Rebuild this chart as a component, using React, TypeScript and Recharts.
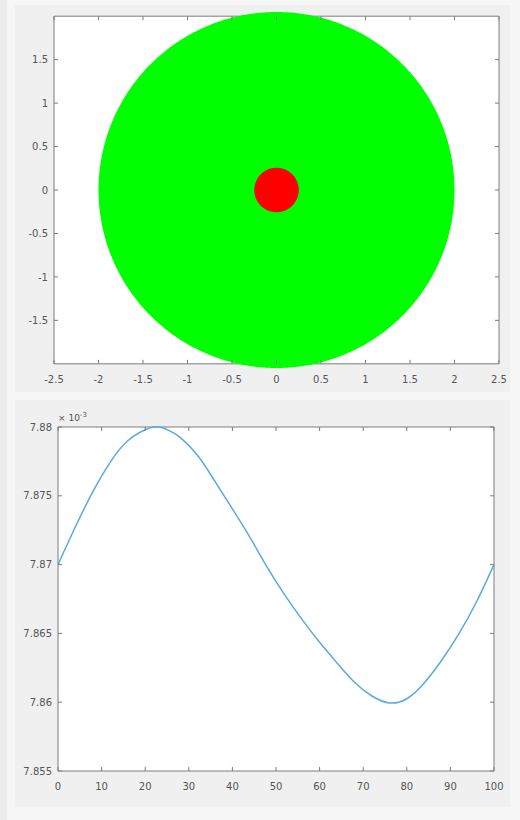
import React from 'react';
import {
  ComposedChart,
  LineChart,
  Line,
  Area,
  XAxis,
  YAxis,
  ReferenceArea,
} from 'recharts';

// ---- Upper plot: two filled disks centred at the origin ----
const DISK_NAMES = ['outer', 'inner'];
const DISK_RADII = [2, 0.25];

const DISK_X_TICKS = [-2.5, -2, -1.5, -1, -0.5, 0, 0.5, 1, 1.5, 2, 2.5];
const DISK_Y_TICKS = [-1.5, -1, -0.5, 0, 0.5, 1, 1.5];
const DISK_X_LIMITS = [-2.5, 2.5];
const DISK_Y_LIMITS = [-2, 2];
const DISK_Y_VIEW = [-2.048, 2.048];

// ---- Lower plot: a single oscillating trace ----
const WAVE_X = [0, 4, 8, 12, 16, 20, 22, 24, 26, 28, 32, 36, 40, 44, 48, 52, 56, 60, 64, 68, 72, 76, 80, 84, 88, 92, 96, 100];
const WAVE_Y = [
  0.00787000, 0.00787275, 0.00787530, 0.00787745, 0.00787900, 0.00787980, 0.00788000,
  0.00787995, 0.00787965, 0.00787925, 0.00787795, 0.00787605, 0.00787405, 0.00787200,
  0.00786980, 0.00786780, 0.00786600, 0.00786435, 0.00786285, 0.00786145, 0.00786045,
  0.00785995, 0.00786025, 0.00786140, 0.00786305, 0.00786500, 0.00786730, 0.00787000,
];
const WAVE_X_TICKS = [0, 10, 20, 30, 40, 50, 60, 70, 80, 90, 100];
const WAVE_Y_TICKS = [0.007855, 0.00786, 0.007865, 0.00787, 0.007875, 0.00788];
const WAVE_X_LIMITS = [0, 100];
const WAVE_Y_LIMITS = [0.007855, 0.00788];

const SAMPLES = 180;

function halfChord(r: number, x: number): number {
  const d = r * r - x * x;
  return d <= 0 ? 0 : Math.sqrt(d);
}

// Outline of every disk as [lower, upper] ranges over a shared x grid
function buildDiskRows() {
  const xs: number[] = [];
  DISK_RADII.forEach((r) => {
    for (let i = 0; i <= SAMPLES; i++) xs.push(r * Math.cos((Math.PI * i) / SAMPLES));
  });
  xs.sort((a, b) => a - b);
  return xs.map((x) => {
    const row: Record<string, any> = { x };
    DISK_NAMES.forEach((name, k) => {
      const r = DISK_RADII[k];
      row[name] = Math.abs(x) <= r + 1e-9 ? [-halfChord(r, x), halfChord(r, x)] : null;
    });
    return row;
  });
}

const diskRows = buildDiskRows();
const waveRows = WAVE_X.map((x, i) => ({ x, y: WAVE_Y[i] }));

const FONT = '"DejaVu Sans", "Liberation Sans", Arial, sans-serif';
const AXIS_COLOR = '#7c7c7c';
const TEXT_COLOR = '#555555';
const TICK_LEN = 4;

// layout of the upper plot
const TOP_PLOT_W = 445;
const TOP_PLOT_H = 356;
const TOP_SCALE = TOP_PLOT_H / (DISK_Y_VIEW[1] - DISK_Y_VIEW[0]);
const TOP_FRAME_GAP = (DISK_Y_LIMITS[0] - DISK_Y_VIEW[0]) * TOP_SCALE;
const TOP_FRAME_H = (DISK_Y_LIMITS[1] - DISK_Y_LIMITS[0]) * TOP_SCALE;

// layout of the lower plot
const LOW_PLOT_W = 436;
const LOW_PLOT_H = 344;

const fmtPlain = (v: number) => String(v);
const fmtMilli = (v: number) => String(parseFloat((v * 1000).toFixed(4)));

const TopXTick = (props: any) => {
  const { x, y, payload } = props;
  const yb = y - TOP_FRAME_GAP;
  const yt = yb - TOP_FRAME_H;
  return (
    <g>
      <line x1={x} x2={x} y1={yb} y2={yb - TICK_LEN} stroke={AXIS_COLOR} />
      <line x1={x} x2={x} y1={yt} y2={yt + TICK_LEN} stroke={AXIS_COLOR} />
      <text x={x} y={yb + 19.5} textAnchor="middle" fontSize={10} fontFamily={FONT} fill={TEXT_COLOR}>
        {fmtPlain(payload.value)}
      </text>
    </g>
  );
};

const TopYTick = (props: any) => {
  const { x, y, payload } = props;
  return (
    <g>
      <line x1={x} x2={x + TICK_LEN} y1={y} y2={y} stroke={AXIS_COLOR} />
      <line x1={x + TOP_PLOT_W} x2={x + TOP_PLOT_W - TICK_LEN} y1={y} y2={y} stroke={AXIS_COLOR} />
      <text x={x - 6} y={y + 3.6} textAnchor="end" fontSize={10} fontFamily={FONT} fill={TEXT_COLOR}>
        {fmtPlain(payload.value)}
      </text>
    </g>
  );
};

const LowXTick = (props: any) => {
  const { x, y, payload } = props;
  return (
    <g>
      <line x1={x} x2={x} y1={y} y2={y - TICK_LEN} stroke={AXIS_COLOR} />
      <line x1={x} x2={x} y1={y - LOW_PLOT_H} y2={y - LOW_PLOT_H + TICK_LEN} stroke={AXIS_COLOR} />
      <text x={x} y={y + 18.5} textAnchor="middle" fontSize={10} fontFamily={FONT} fill={TEXT_COLOR}>
        {fmtPlain(payload.value)}
      </text>
    </g>
  );
};

const LowYTick = (props: any) => {
  const { x, y, payload } = props;
  return (
    <g>
      <line x1={x} x2={x + TICK_LEN} y1={y} y2={y} stroke={AXIS_COLOR} />
      <line x1={x + LOW_PLOT_W} x2={x + LOW_PLOT_W - TICK_LEN} y1={y} y2={y} stroke={AXIS_COLOR} />
      <text x={x - 6} y={y + 3.6} textAnchor="end" fontSize={10} fontFamily={FONT} fill={TEXT_COLOR}>
        {fmtMilli(payload.value)}
      </text>
    </g>
  );
};

const ExponentLabel = (props: any) => {
  const vb = props.viewBox || {};
  const x = (vb.x || 0) + (vb.width || 0);
  const y = (vb.y || 0) - 6;
  return (
    <text x={x} y={y} fontSize={9} fontFamily={FONT} fill={TEXT_COLOR}>
      {'\u00d7 10'}
      <tspan dy={-4} fontSize={7}>-3</tspan>
    </text>
  );
};

export default function App() {
  return (
    <div
      style={{
        position: 'fixed',
        left: 0,
        top: 0,
        width: 520,
        height: 820,
        background: '#f6f6f6',
        overflow: 'hidden',
      }}
    >
      <div style={{ position: 'absolute', left: 0, top: 0, width: 7, height: 820, background: '#ececec' }} />
      <div style={{ position: 'absolute', left: 15, top: 5, width: 495, height: 387, background: '#f0f0f0' }} />
      <div style={{ position: 'absolute', left: 15, top: 400, width: 495, height: 407, background: '#f0f0f0' }} />

      <div style={{ position: 'absolute', left: 0, top: 0 }}>
        <ComposedChart
          width={520}
          height={400}
          data={diskRows}
          margin={{ top: 12, right: 21, bottom: 2, left: 14 }}
        >
          <XAxis
            dataKey="x"
            type="number"
            domain={DISK_X_LIMITS}
            ticks={DISK_X_TICKS}
            interval={0}
            height={30}
            axisLine={false}
            tickLine={false}
            tickSize={0}
            tickMargin={0}
            tick={TopXTick}
            allowDataOverflow
          />
          <YAxis
            yAxisId="frame"
            type="number"
            domain={DISK_Y_VIEW}
            ticks={DISK_Y_TICKS}
            interval={0}
            width={40}
            axisLine={false}
            tickLine={false}
            tickSize={0}
            tickMargin={0}
            tick={TopYTick}
            allowDataOverflow
          />
          <YAxis
            yAxisId="disk"
            orientation="right"
            type="number"
            domain={['dataMin', 'dataMax']}
            width={0}
            hide
          />
          <ReferenceArea
            yAxisId="frame"
            x1={DISK_X_LIMITS[0]}
            x2={DISK_X_LIMITS[1]}
            y1={DISK_Y_LIMITS[0]}
            y2={DISK_Y_LIMITS[1]}
            fill="#ffffff"
            fillOpacity={1}
            stroke={AXIS_COLOR}
            strokeWidth={1}
            ifOverflow="visible"
          />
          <Area
            yAxisId="disk"
            dataKey="outer"
            type="linear"
            stroke="none"
            fill="#00ff00"
            fillOpacity={1}
            dot={false}
            activeDot={false}
            isAnimationActive={false}
          />
          <Area
            yAxisId="disk"
            dataKey="inner"
            type="linear"
            stroke="none"
            fill="#ff0000"
            fillOpacity={1}
            dot={false}
            activeDot={false}
            isAnimationActive={false}
          />
        </ComposedChart>
      </div>

      <div style={{ position: 'absolute', left: 0, top: 400 }}>
        <LineChart
          width={520}
          height={420}
          data={waveRows}
          margin={{ top: 27, right: 26, bottom: 19, left: 13 }}
        >
          <XAxis
            dataKey="x"
            type="number"
            domain={WAVE_X_LIMITS}
            ticks={WAVE_X_TICKS}
            interval={0}
            height={30}
            axisLine={false}
            tickLine={false}
            tickSize={0}
            tickMargin={0}
            tick={LowXTick}
          />
          <YAxis
            type="number"
            domain={WAVE_Y_LIMITS}
            ticks={WAVE_Y_TICKS}
            interval={0}
            width={45}
            axisLine={false}
            tickLine={false}
            tickSize={0}
            tickMargin={0}
            tick={LowYTick}
            label={{ content: ExponentLabel }}
          />
          <ReferenceArea
            x1={WAVE_X_LIMITS[0]}
            x2={WAVE_X_LIMITS[1]}
            y1={WAVE_Y_LIMITS[0]}
            y2={WAVE_Y_LIMITS[1]}
            fill="#ffffff"
            fillOpacity={1}
            stroke={AXIS_COLOR}
            strokeWidth={1}
          />
          <Line
            dataKey="y"
            type="natural"
            stroke="#5aa9df"
            strokeWidth={1.5}
            dot={false}
            activeDot={false}
            isAnimationActive={false}
          />
        </LineChart>
      </div>
    </div>
  );
}
